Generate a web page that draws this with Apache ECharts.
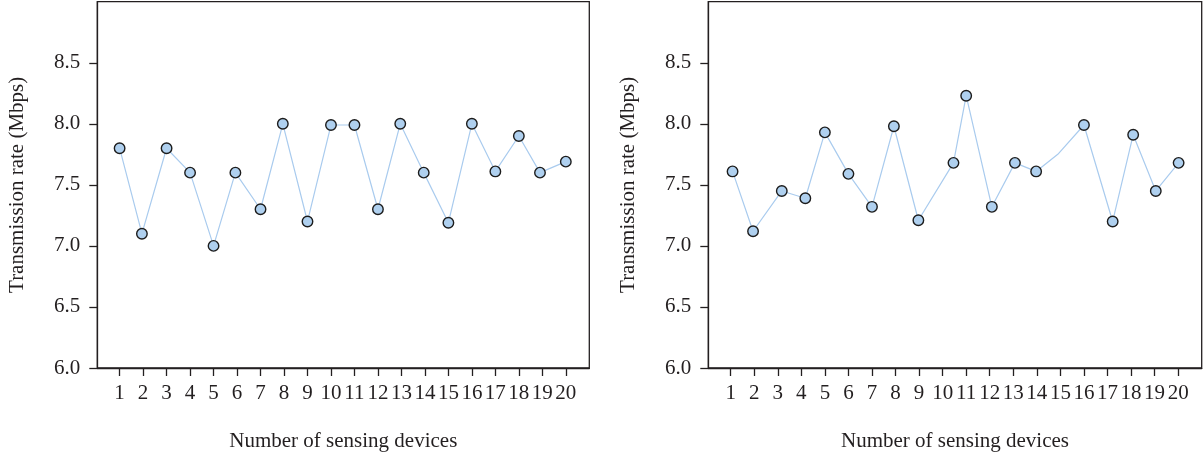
<!DOCTYPE html>
<html>
<head>
<meta charset="utf-8">
<script src="https://cdn.jsdelivr.net/npm/echarts@6/dist/echarts.min.js"></script>
<style>
html,body{margin:0;padding:0;background:#fff;}
#chart{width:1204px;height:458px;}
</style>
</head>
<body>
<div id="chart"></div>
<script>
// Data
const xTickLabels = [1,2,3,4,5,6,7,8,9,10,11,12,13,14,15,16,17,18,19,20];
const yTickLabels = [6.0,6.5,7.0,7.5,8.0,8.5];
const leftX = [1,1.95,3,4,5,5.93,7,7.95,9,10,11,12,12.95,13.95,15,16,17,18,18.9,20];
const leftY = [7.80,7.10,7.80,7.60,7.00,7.60,7.30,8.00,7.20,7.99,7.99,7.30,8.00,7.60,7.19,8.00,7.61,7.90,7.60,7.69];
const rightX = [1.08,1.95,3.17,4.17,5,6,7,7.93,8.97,10.46,11,12.09,13.07,13.97,14.89,16,17.22,18.09,19.05,20.02];
const rightY = [7.61,7.12,7.45,7.39,7.93,7.59,7.32,7.98,7.21,7.68,8.23,7.32,7.68,7.61,7.75,7.99,7.20,7.91,7.45,7.68];
const rightHasMarker = [true,true,true,true,true,true,true,true,true,true,true,true,true,true,false,true,true,true,true,true];
const xTitle = 'Number of sensing devices';
const yTitle = 'Transmission rate (Mbps)';

const FONT = 'Liberation Serif';
const TXT = '#231f20';
const AX = '#231f20';

function makeData(xs, ys, marks) {
  return xs.map((x, i) => {
    const d = { value: [x, ys[i]] };
    if (marks && !marks[i]) d.symbol = 'none';
    return d;
  });
}

function xAxis(idx) {
  return {
    type: 'value', gridIndex: idx, min: 0.05, max: 21,
    name: xTitle, nameLocation: 'middle', nameGap: 63,
    nameTextStyle: { fontFamily: FONT, fontSize: 21, color: TXT },
    axisLine: { show: true, onZero: false, lineStyle: { color: AX, width: 1.3 } },
    axisTick: { show: true, length: 8, customValues: xTickLabels, lineStyle: { color: AX, width: 1.3 } },
    axisLabel: { customValues: xTickLabels, margin: 15, fontFamily: FONT, fontSize: 21, color: TXT },
    splitLine: { show: false }
  };
}
function yAxis(idx) {
  return {
    type: 'value', gridIndex: idx, min: 6, max: 9,
    name: yTitle, nameLocation: 'middle', nameGap: 69,
    nameTextStyle: { fontFamily: FONT, fontSize: 21, color: TXT },
    axisLine: { show: true, lineStyle: { color: AX, width: 1.3 } },
    axisTick: { show: true, length: 8, customValues: yTickLabels, lineStyle: { color: AX, width: 1.3 } },
    axisLabel: { customValues: yTickLabels, margin: 17, fontFamily: FONT, fontSize: 21, color: TXT,
      formatter: v => Number(v).toFixed(1) },
    splitLine: { show: false }
  };
}
function series(idx, data) {
  return {
    type: 'line', xAxisIndex: idx, yAxisIndex: idx, data: data,
    symbol: 'circle', symbolSize: 10.5, showAllSymbol: true,
    lineStyle: { color: '#a9cbee', width: 1.2 },
    itemStyle: { color: '#afd0ef', borderColor: '#1c1c1c', borderWidth: 1.4 },
    emphasis: { disabled: true }, animation: false, z: 3
  };
}

const chart = echarts.init(document.getElementById('chart'), null, { renderer: 'canvas' });
chart.setOption({
  backgroundColor: '#fff',
  animation: false,
  grid: [
    { left: 97.3, right: 614.7, top: 1.7, bottom: 90, show: true, borderColor: AX, borderWidth: 1.3, containLabel: false },
    { left: 708.3, right: 2.3, top: 1.7, bottom: 90, show: true, borderColor: AX, borderWidth: 1.3, containLabel: false }
  ],
  xAxis: [xAxis(0), xAxis(1)],
  yAxis: [yAxis(0), yAxis(1)],
  series: [
    series(0, makeData(leftX, leftY)),
    series(1, makeData(rightX, rightY, rightHasMarker))
  ]
});
</script>
</body>
</html>
